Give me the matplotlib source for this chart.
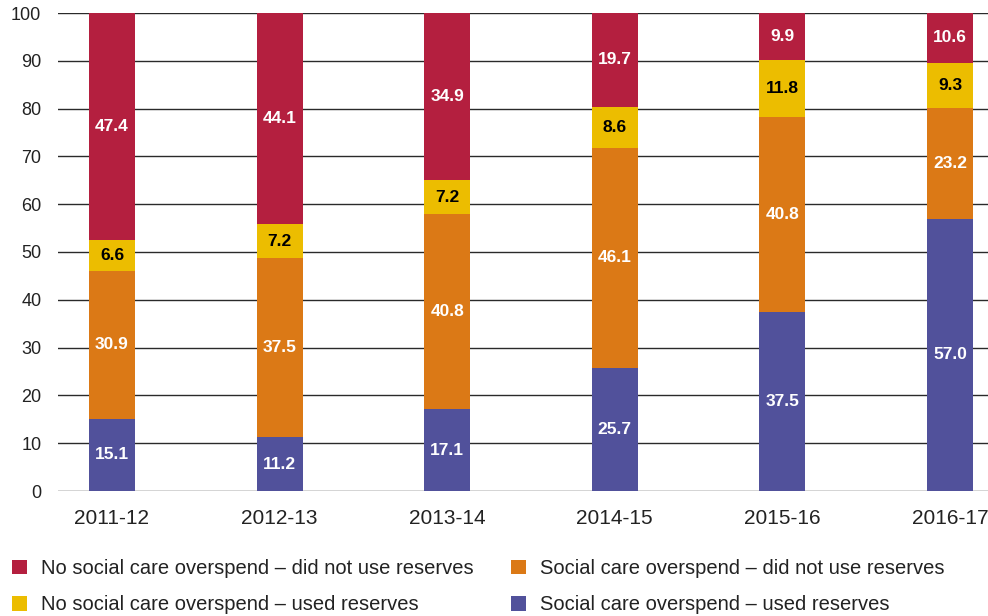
import matplotlib.pyplot as plt
import numpy as np

plt.rcParams['font.family'] = ['Liberation Sans', 'DejaVu Sans']

years = ['2011-12', '2012-13', '2013-14', '2014-15', '2015-16', '2016-17']

# stacked from the bottom up
used_overspend = [15.1, 11.2, 17.1, 25.7, 37.5, 57.0]
notused_overspend = [30.9, 37.5, 40.8, 46.1, 40.8, 23.2]
used_no_overspend = [6.6, 7.2, 7.2, 8.6, 11.8, 9.3]
notused_no_overspend = [47.4, 44.1, 34.9, 19.7, 9.9, 10.6]

series = [
    (used_overspend, '#51519b', 'white', 'Social care overspend – used reserves'),
    (notused_overspend, '#db7916', 'white', 'Social care overspend – did not use reserves'),
    (used_no_overspend, '#ecbd00', 'black', 'No social care overspend – used reserves'),
    (notused_no_overspend, '#b41f3f', 'white', 'No social care overspend – did not use reserves'),
]

fig = plt.figure(figsize=(9.88, 6.16), dpi=100)
ax = fig.add_axes([58 / 988, 125 / 616, 930 / 988, 478 / 616])

x = np.arange(len(years))
bottom = np.zeros(len(years))
bars = {}
for vals, col, tcol, name in series:
    vals = np.array(vals)
    b = ax.bar(x, vals, 0.275, bottom=bottom, color=col, zorder=2)
    bars[name] = b
    for xi, v, b0 in zip(x, vals, bottom):
        ax.text(xi, b0 + v / 2, f'{v:.1f}', ha='center', va='center',
                color=tcol, fontsize=12.5, fontweight='bold', zorder=3)
    bottom += vals

ax.set_ylim(0, 100)
ax.set_xlim(-0.322, 5.227)
ax.set_yticks(np.arange(0, 101, 10))
ax.yaxis.grid(True, color='#2a2a2a', lw=1.0, zorder=1)
ax.set_axisbelow(True)
for s in ax.spines.values():
    s.set_visible(False)
ax.tick_params(axis='y', length=0, pad=12, labelsize=13, labelcolor='#222222')
ax.tick_params(axis='x', length=0, pad=13, labelsize=15, labelcolor='#222222')
ax.set_xticks(x)
ax.set_xticklabels(years)

# legend: two columns, drawn as two legends
col1 = ['No social care overspend – did not use reserves', 'No social care overspend – used reserves']
col2 = ['Social care overspend – did not use reserves', 'Social care overspend – used reserves']
for names, x0 in [(col1, 4 / 988), (col2, 503 / 988)]:
    fig.legend([bars[n] for n in names], names, loc='upper left',
               bbox_to_anchor=(x0, 65 / 616), frameon=False, fontsize=14.5,
               handlelength=0.75, handleheight=0.75, handletextpad=0.7,
               labelspacing=0.85, labelcolor='#222222', borderaxespad=0)

fig.savefig('out.png', dpi=100)
